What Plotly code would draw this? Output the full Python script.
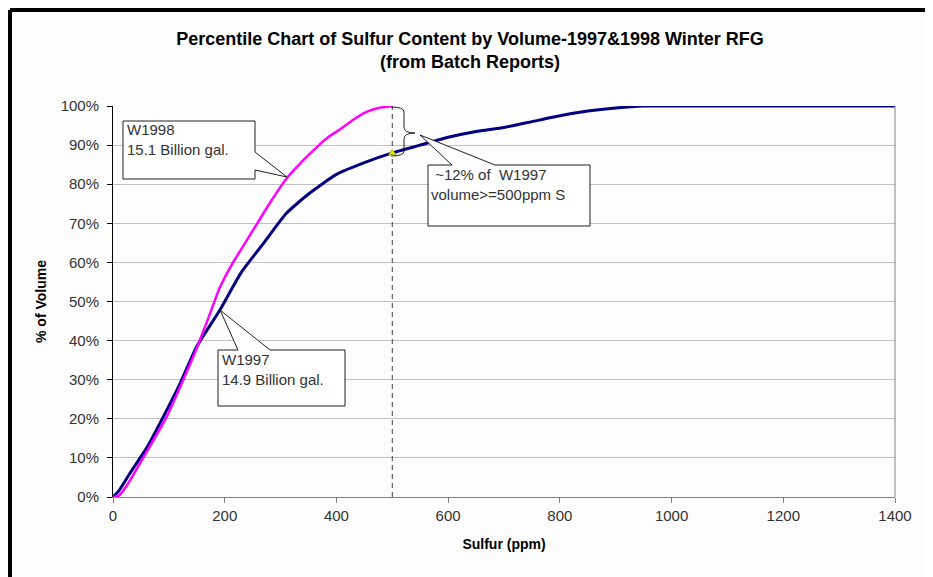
import plotly.graph_objects as go

# Dados (Sulfur em ppm, % do volume)
sulfur_w1997 = [0, 10, 30, 60, 90, 120, 150, 190, 230, 270, 310, 350, 400, 450, 500,
                550, 600, 650, 700, 750, 800, 850, 900, 950, 1000, 1400]
pct_w1997 = [0, 1.5, 6, 12.5, 20.5, 29, 38.5, 47.5, 57.5, 65, 72.5, 77.5, 82.5, 85.5, 88,
             90, 92, 93.5, 94.5, 96, 97.5, 98.7, 99.5, 100, 100, 100]

sulfur_w1998 = [0, 10, 25, 54, 96, 144, 170, 191, 215, 251, 280, 311, 340, 365, 385,
                406, 430, 454, 475, 500]
pct_w1998 = [0, 0.3, 3, 10, 20.5, 36, 45.5, 53.5, 60, 68.3, 75, 81.5, 86, 89.5, 92,
             94, 96.5, 98.5, 99.5, 100]

cutoff_ppm = [500, 500]
cutoff_pct = [0, 100]
marker_ppm = [500]
marker_pct = [88]

x_ticks = [0, 200, 400, 600, 800, 1000, 1200, 1400]
y_ticks = [0, 10, 20, 30, 40, 50, 60, 70, 80, 90, 100]
y_tick_labels = [f"{v}%" for v in y_ticks]

FONT = "Arial, Liberation Sans, sans-serif"

# Area do grafico em pixels da pagina (o body tem margem de 8px)
L, R, T, B = 113, 895, 106, 497
W, H = 933, 577
OFF = 8


def dx(px):
    return (px - L) / (R - L) * 1400


def dy(py):
    return (B - py) / (B - T) * 100


def callout_path(pts):
    return "M " + " L ".join(f"{dx(x):.2f},{dy(y):.3f}" for x, y in pts) + " Z"


fig = go.Figure()

# Linha tracejada em 500 ppm
fig.add_trace(go.Scatter(x=cutoff_ppm, y=cutoff_pct, mode="lines",
                         line=dict(color="#404040", width=1, dash="5px,4px"),
                         showlegend=False, hoverinfo="skip"))

fig.add_trace(go.Scatter(x=sulfur_w1997, y=pct_w1997, mode="lines", name="W1997",
                         line=dict(color="#000080", width=3, shape="spline", smoothing=0.5)))
fig.add_trace(go.Scatter(x=sulfur_w1998, y=pct_w1998, mode="lines", name="W1998",
                         line=dict(color="#FF00FF", width=2.5, shape="spline", smoothing=0.5)))

fig.add_trace(go.Scatter(x=marker_ppm, y=marker_pct, mode="markers",
                         marker=dict(symbol="triangle-up", size=7, color="#E8E800",
                                     line=dict(color="#808000", width=0.5)),
                         showlegend=False, hoverinfo="skip"))

shapes = []

# Moldura preta (topo e esquerda)
xl = (10 - L) / (R - L)
xr = (927 - L) / (R - L)
yt = (B - 10) / (B - T)
yb = (B - 590) / (B - T)
shapes.append(dict(type="line", xref="paper", yref="paper", x0=xl, x1=xl, y0=yb, y1=yt,
                   line=dict(color="black", width=4)))
shapes.append(dict(type="line", xref="paper", yref="paper", x0=xl, x1=xr, y0=yt, y1=yt,
                   line=dict(color="black", width=4)))

# Borda direita da area do grafico
shapes.append(dict(type="line", xref="paper", yref="paper", x0=1, x1=1, y0=0, y1=1,
                   line=dict(color="#808080", width=1)))

# Chave "}" entre as curvas em 500 ppm
brace = (f"M {dx(391)},{dy(107)} Q {dx(404)},{dy(107)} {dx(404)},{dy(112)} "
         f"L {dx(404)},{dy(127)} Q {dx(404)},{dy(133)} {dx(415)},{dy(133)} "
         f"Q {dx(404)},{dy(133)} {dx(404)},{dy(139)} "
         f"L {dx(404)},{dy(151)} Q {dx(404)},{dy(156)} {dx(391)},{dy(156)}")
shapes.append(dict(type="path", xref="x", yref="y", path=brace,
                   line=dict(color="#202020", width=1)))

# Callouts
callouts = [
    [(123, 121), (255, 121), (255, 152), (287, 177), (255, 170), (255, 179), (123, 179)],
    [(218, 350), (238, 350), (220, 310), (270, 350), (345, 350), (345, 406), (218, 406)],
    [(428, 165), (452, 165), (420, 135), (495, 165), (590, 165), (590, 226), (428, 226)],
]
for pts in callouts:
    shapes.append(dict(type="path", xref="x", yref="y", path=callout_path(pts),
                       fillcolor="white", line=dict(color="#202020", width=1), layer="above"))

fig.update_layout(shapes=shapes)

notes = [
    (125, 119, "W1998<br>15.1 Billion gal."),
    (220, 349, "W1997<br>14.9 Billion gal."),
    (429, 164, "\u00a0~12% of \u00a0W1997<br>volume>=500ppm S"),
]
for px, py, txt in notes:
    fig.add_annotation(x=dx(px), y=dy(py), xref="x", yref="y", text=txt, showarrow=False,
                       xanchor="left", yanchor="top", align="left",
                       font=dict(family=FONT, size=15, color="#333333"))

fig.update_layout(
    width=W, height=H,
    margin=dict(l=L - OFF, r=W - R + OFF, t=T - OFF, b=H - B + OFF),
    paper_bgcolor="#FDFDFD",
    plot_bgcolor="#FDFDFD",
    showlegend=False,
    font=dict(family=FONT, size=15, color="#333333"),
    title=dict(
        text="<b>Percentile Chart of Sulfur Content by Volume-1997&1998 Winter RFG<br>(from Batch Reports)</b>",
        x=(470 - L) / (R - L), xref="paper", xanchor="center",
        y=(H - 37) / H, yanchor="top",
        font=dict(family=FONT, size=18, color="black"),
    ),
    xaxis=dict(
        range=[0, 1400], tickvals=x_ticks, showgrid=False, zeroline=False,
        showline=True, linecolor="#808080", linewidth=1,
        ticks="outside", ticklen=5, tickcolor="#808080",
        tickfont=dict(family=FONT, size=15, color="#333333"),
        title=dict(text="<b>Sulfur (ppm)</b>", standoff=16,
                   font=dict(family=FONT, size=14, color="black")),
    ),
    yaxis=dict(
        range=[0, 100], tickvals=y_ticks, ticktext=y_tick_labels,
        showgrid=True, gridcolor="#C0C0C0", gridwidth=1, zeroline=False,
        showline=True, linecolor="black", linewidth=1,
        ticks="outside", ticklen=5, tickcolor="black", ticklabelstandoff=5,
        tickfont=dict(family=FONT, size=15, color="#333333"),
        title=dict(text="<b>% of Volume</b>", standoff=10,
                   font=dict(family=FONT, size=14, color="black")),
    ),
)

fig.write_html("out.html")
